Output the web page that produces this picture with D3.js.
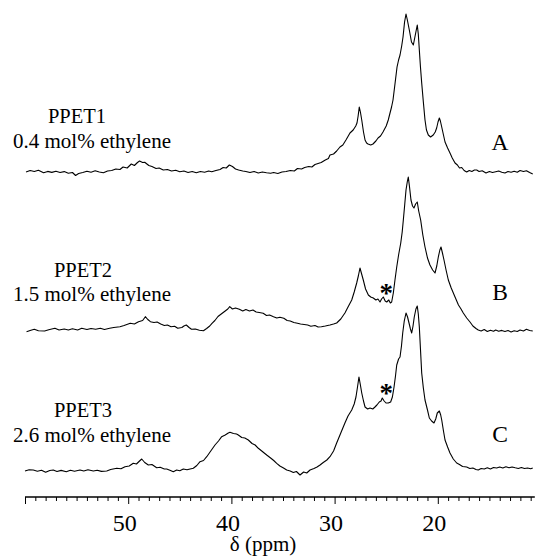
<!DOCTYPE html>
<html>
<head>
<meta charset="utf-8">
<script src="https://cdnjs.cloudflare.com/ajax/libs/d3/7.8.5/d3.min.js"></script>
<style>
  body { margin: 0; background: #fff; }
  text { font-family: "Liberation Serif", "Times New Roman", serif; fill: #000; }
</style>
</head>
<body>
<div id="chart"></div>
<script>
// spectra: [ppm, intensity above own baseline]
var specA = [
  [59.9,0],[59.5,1.5],[59.1,0.5],[58.7,1.8],[58.2,-0.8],[57.8,0.6],[57.4,-0.4],[57.0,0.8],[56.6,-0.5],[56.2,0.4],
  [55.8,-1.2],[55.4,-0.5],[55.1,-3.5],[54.8,-1.5],[54.4,-0.5],[54.0,0.8],[53.6,-0.2],[53.2,1.2],[52.8,0],[52.4,-0.8],
  [52.0,1.0],[51.6,1.5],[51.2,3.0],[50.8,2.5],[50.5,5.0],[50.1,4.0],[49.7,8.0],[49.4,6.5],[49.1,9.5],[48.9,11],
  [48.6,9.5],[48.4,9.8],[48.0,6.5],[47.7,5.5],[47.3,3.5],[47.0,4.0],[46.6,2.0],[46.2,2.5],[45.8,1.0],[45.4,1.8],
  [45.0,0.2],[44.6,1.0],[44.2,-0.5],[43.8,0.5],[43.4,-0.8],[43.0,0.5],[42.6,-0.2],[42.2,1.0],[41.9,0.2],[41.5,1.5],
  [41.1,2.5],[40.8,4.5],[40.5,4.0],[40.2,7.0],[39.9,5.5],[39.6,3.0],[39.3,2.0],[38.9,1.0],[38.6,0.5],[38.2,-0.5],
  [37.8,0.5],[37.4,-1.0],[37.0,0],[36.6,-0.8],[36.2,-1.2],[35.9,-0.5],[35.5,-1.5],[35.1,0],[34.7,0.5],[34.3,1.5],
  [33.9,1.0],[33.6,3.5],[33.2,3.0],[32.9,4.5],[32.5,5.5],[32.2,5.0],[31.9,7.5],[31.6,8.5],[31.3,9.5],[30.9,12],
  [30.6,13.5],[30.45,17],[30.1,18],[29.8,21],[29.48,25],[29.2,27],[28.9,32],[28.51,39],[28.2,42],[27.95,46],
  [27.83,49],[27.72,56],[27.61,65],[27.5,60],[27.37,52],[27.2,40],[27.05,32],[26.9,29],[26.76,28],[26.5,27],
  [26.28,28],[26.0,31],[25.79,34],[25.55,36],[25.31,40],[25.0,46],[24.8,52],[24.63,59],[24.48,65],[24.34,72],
  [24.15,88],[23.95,105],[23.8,112],[23.66,117],[23.5,126],[23.37,135],[23.22,150],[23.08,158],[22.95,152],[22.76,142],
  [22.55,130],[22.37,127],[22.2,136],[21.99,147],[21.89,138],[21.79,122],[21.68,105],[21.56,89],[21.4,70],[21.24,52],
  [21.1,42],[20.92,37],[20.7,35],[20.44,37],[20.25,40],[20.11,44],[19.98,50],[19.85,54],[19.75,51],[19.62,45],
  [19.45,37],[19.3,30],[19.05,24],[18.82,19],[18.6,14],[18.33,9],[18.1,7],[17.9,4],[17.68,4.5],[17.45,1.5],
  [17.2,0],[16.95,1.5],[16.7,0.5],[16.45,2.0],[16.23,2],[16.0,0.5],[15.7,1.2],[15.33,-1],[15.0,0.5],[14.7,-0.5],
  [14.39,0.3],[14.1,1.0],[13.8,-0.2],[13.49,-1],[13.2,0.5],[12.9,-0.3],[12.6,0.8],[12.3,-0.2],[12.03,1.5],[11.7,0.5],
  [11.41,1.3],[11.1,-0.5],[10.8,-2]
];

var specB = [
  [59.85,0.3],[59.5,1.5],[59.1,2.7],[58.7,1.2],[58.1,1],[57.7,2.2],[57.1,3.7],[56.7,2.0],[56.2,3.0],[55.8,2],
  [55.4,3.2],[54.9,2.0],[54.5,3.7],[54.0,2.5],[53.6,3.5],[53.15,2.7],[52.7,3.8],[52.3,2.5],[51.8,3.7],[51.4,4.5],
  [50.8,5.3],[50.4,6.5],[49.8,8.7],[49.4,8.0],[49.0,10.3],[48.6,11.5],[48.34,15.3],[48.1,12.5],[47.85,10.3],[47.5,9.5],
  [47.2,10.0],[46.85,8],[46.5,6.5],[46.2,7.0],[45.85,5.3],[45.5,5.8],[45.2,3.7],[44.8,4.5],[44.6,6.0],[44.37,7],
  [44.1,4.5],[43.87,2.7],[43.5,3.0],[43.1,1.8],[42.71,1.3],[42.4,3.5],[42.1,6.0],[41.88,8.7],[41.6,11.5],[41.3,15.5],
  [40.89,18.7],[40.6,21.0],[40.35,23.0],[40.16,25.3],[39.9,23.0],[39.6,24.0],[39.23,22.7],[38.9,21.0],[38.6,22.5],[38.25,21.0],
  [37.91,22],[37.6,20.0],[37.3,19.5],[36.92,18.7],[36.6,16.5],[36.3,17.0],[35.92,15.3],[35.6,14.0],[35.3,14.8],[34.92,13.7],
  [34.6,11.5],[34.3,11.0],[33.95,9.5],[33.6,8.7],[33.3,8.0],[32.95,7.5],[32.61,7],[32.3,5.8],[31.9,6.5],[31.6,5.0],
  [31.28,5.3],[30.9,6.0],[30.45,7],[30.1,8.0],[29.8,9],[29.4,13],[29.0,19],[28.7,25],[28.34,32],[28.1,40],
  [27.86,49],[27.7,56],[27.54,64],[27.38,58],[27.22,52],[27.0,43],[26.73,37],[26.5,35],[26.25,34],[26.0,32],
  [25.8,33],[25.6,30],[25.45,33],[25.28,35],[25.1,31],[24.95,30],[24.75,32],[24.6,29],[24.47,30],[24.31,39],
  [24.15,52],[23.98,65],[23.8,77],[23.59,89],[23.45,100],[23.34,112],[23.2,128],[23.08,142],[22.96,150],[22.86,155],
  [22.75,146],[22.6,132],[22.45,126],[22.31,124],[22.15,128],[21.99,130],[21.85,121],[21.66,112],[21.45,97],[21.24,85],
  [21.0,74],[20.76,67],[20.5,62],[20.27,59],[20.1,66],[19.95,75],[19.8,82],[19.69,85],[19.55,79],[19.4,72],
  [19.2,62],[18.98,52],[18.7,44],[18.33,35],[18.0,27],[17.75,23],[17.53,19],[17.2,14],[16.88,10],[16.6,6],
  [16.3,3.5],[16.08,2],[15.8,1.0],[15.5,2.5],[15.2,0.5],[14.9,1.8],[14.6,0.8],[14.39,2],[14.1,0.8],[13.8,1.6],
  [13.49,0.5],[13.2,1.5],[12.9,0],[12.6,1.2],[12.3,0.5],[12.03,2],[11.7,1.0],[11.41,2.7],[11.1,1.5],[10.8,1]
];

var specC = [
  [60.0,0],[59.6,1.2],[59.2,1],[58.8,-0.2],[58.4,0.8],[58.0,-1.3],[57.6,0.5],[57.26,1],[56.9,-0.5],[56.5,0.6],
  [56.0,-0.7],[55.6,0.8],[55.2,-0.2],[54.67,1],[54.3,0],[53.9,1.2],[53.38,0],[53.0,0.8],[52.6,-0.4],[52.08,0],
  [51.7,1.5],[51.11,2.7],[50.7,2.2],[50.31,4.3],[49.9,5.0],[49.51,7.7],[49.2,7.0],[48.9,10.0],[48.69,12],[48.4,8.5],
  [48.05,6],[47.7,6.5],[47.24,3.3],[46.9,3.8],[46.5,2.0],[46.27,2],[45.9,0.5],[45.63,-0.7],[45.3,1.0],[45.0,0.2],
  [44.66,2],[44.3,1.2],[44.0,2.0],[43.69,2.7],[43.35,5.5],[43.04,9.3],[42.7,10.5],[42.39,14.3],[42.0,20.0],[41.59,26],
  [41.25,30],[40.94,34.3],[40.6,36.0],[40.3,38.0],[40.14,38.7],[39.8,37.5],[39.5,37.0],[39.33,36],[39.0,33.5],[38.7,33.0],
  [38.36,31],[38.0,27.5],[37.7,26.0],[37.39,22.7],[37.0,19.5],[36.58,16],[36.2,13.0],[35.9,10.5],[35.61,7.7],[35.3,5.0],
  [34.95,3.0],[34.64,1],[34.3,0],[34.0,-1.5],[33.7,-0.5],[33.35,-4],[33.0,-1.0],[32.7,-2.0],[32.38,1],[32.0,2.5],
  [31.7,4.0],[31.41,6],[31.1,8.5],[30.75,11],[30.45,14.3],[30.1,20],[29.8,28],[29.4,38],[29.0,48],[28.7,55],
  [28.34,61],[28.1,67],[27.93,74],[27.78,84],[27.64,94],[27.5,86],[27.37,78],[27.2,70],[27.05,64],[26.8,62],
  [26.57,63],[26.3,62],[26.09,64],[25.9,66],[25.67,69],[25.5,70],[25.38,73],[25.2,70],[25.02,68],[24.8,68],
  [24.57,69],[24.4,74],[24.24,84],[24.1,95],[23.98,106],[23.8,112],[23.66,114],[23.52,125],[23.4,138],[23.25,150],
  [23.08,158],[22.93,154],[22.79,148],[22.65,142],[22.53,138],[22.4,145],[22.28,154],[22.12,162],[21.99,165],[21.89,157],
  [21.79,144],[21.68,122],[21.56,98],[21.4,83],[21.24,71],[21.0,61],[20.82,53],[20.6,50],[20.37,48],[20.2,52],
  [20.05,58],[19.85,60],[19.72,56],[19.62,51],[19.45,40],[19.3,31],[19.05,24],[18.82,18],[18.5,12],[18.17,8],
  [17.9,6.5],[17.6,4.5],[17.2,4],[16.9,2.5],[16.6,3.0],[16.3,1.5],[16.08,1],[15.8,2.5],[15.5,2.0],[15.2,3.2],
  [14.9,2.0],[14.6,3.5],[14.3,3.0],[14.0,4.0],[13.7,3.0],[13.4,4.3],[13.1,3.2],[12.8,4.0],[12.5,3.2],[12.2,2.5],
  [11.9,3.5],[11.6,2.5],[11.3,3.0],[11.0,2.2],[10.8,3.0]
];

var sampleNames = ["PPET1", "PPET2", "PPET3"];
var sampleInfo = ["0.4 mol% ethylene", "1.5 mol% ethylene", "2.6 mol% ethylene"];
var traceLetters = ["A", "B", "C"];
var starPpm = [null, 25.0, 25.0];      // "*" marks on B and C
var starLevel = [null, 45, 84];
var tickLabels = [50, 40, 30, 20];

var width = 536, height = 557;
var serif = '"Liberation Serif", "Times New Roman", serif';
var baseY = [172, 332, 471];           // baseline of each trace
var nameY = [123, 277, 417];
var infoY = [148, 301, 442];
var letterY = [150, 300, 442];
var axisY = 497;

var svg = d3.select("#chart")
  .append("svg")
  .attr("width", width)
  .attr("height", height)
  .style("font-family", serif);

var x = d3.scaleLinear()
  .domain([60, 10])
  .range([25, 541]);

var spectra = [specA, specB, specC];

spectra.forEach(function (spec, i) {
  var y = d3.scaleLinear()
    .domain([0, 160])
    .range([baseY[i], baseY[i] - 160]);

  var line = d3.line()
    .x(function (d) { return x(d[0]); })
    .y(function (d) { return y(d[1]); });

  svg.append("path")
    .datum(spec)
    .attr("d", line)
    .attr("fill", "none")
    .attr("stroke", "#000")
    .attr("stroke-width", 1.1)
    .attr("stroke-linejoin", "round");

  if (starPpm[i] != null) {
    svg.append("text")
      .attr("x", x(starPpm[i]))
      .attr("y", y(starLevel[i]) + 15)
      .attr("text-anchor", "middle")
      .attr("font-family", serif)
      .attr("font-weight", "bold")
      .attr("fill", "#000")
      .style("font-size", "27px")
      .text("*");
  }

  // sample labels on the left
  svg.append("text")
    .attr("x", i == 0 ? 77 : 83)
    .attr("y", nameY[i])
    .attr("text-anchor", "middle")
    .attr("font-family", serif)
    .style("font-size", "20.5px")
    .text(sampleNames[i]);

  svg.append("text")
    .attr("x", 92)
    .attr("y", infoY[i])
    .attr("text-anchor", "middle")
    .attr("font-family", serif)
    .style("font-size", "21px")
    .text(sampleInfo[i]);

  svg.append("text")
    .attr("x", 500)
    .attr("y", letterY[i])
    .attr("text-anchor", "middle")
    .attr("font-family", serif)
    .style("font-size", "23.5px")
    .text(traceLetters[i]);
});

// ppm axis
svg.append("line")
  .attr("x1", x(60))
  .attr("x2", x(10.6))
  .attr("y1", axisY)
  .attr("y2", axisY)
  .attr("stroke", "#000")
  .attr("stroke-width", 1.4);

var minorTicks = d3.range(59, 10, -1).filter(function (d) { return d % 10 != 0; });

var minorAxis = svg.append("g")
  .attr("transform", "translate(0," + axisY + ")")
  .call(d3.axisBottom(x).tickValues(minorTicks).tickSize(4).tickFormat(""));

var majorAxis = svg.append("g")
  .attr("transform", "translate(0," + axisY + ")")
  .call(d3.axisBottom(x)
    .tickValues([60, 50, 40, 30, 20])
    .tickSize(7)
    .tickPadding(10)
    .tickFormat(function (d) { return tickLabels.indexOf(d) >= 0 ? d : ""; }));

svg.selectAll(".domain").remove();
svg.selectAll(".tick line").attr("stroke", "#000");
majorAxis.selectAll("text")
  .attr("dx", -4)
  .attr("font-family", serif)
  .style("font-family", serif)
  .style("font-size", "24px")
  .attr("fill", "#000");

svg.append("text")
  .attr("x", 263)
  .attr("y", 551)
  .attr("text-anchor", "middle")
  .attr("font-family", serif)
  .style("font-size", "21px")
  .text("\u03b4 (ppm)");
</script>
</body>
</html>
